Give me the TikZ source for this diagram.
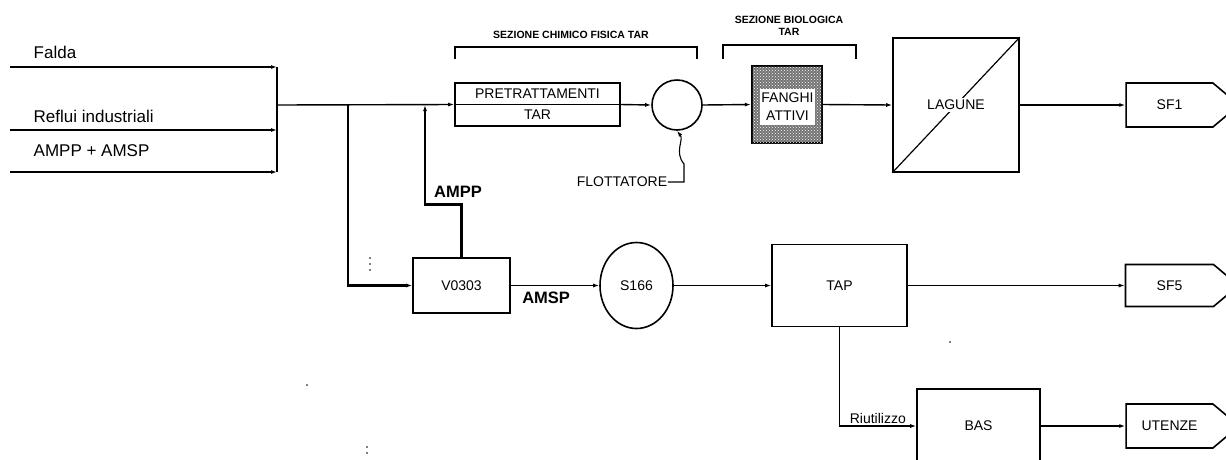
\documentclass[tikz,border=0pt]{standalone}
\usepackage{fontspec}
\setmainfont{Liberation Sans}
\usetikzlibrary{arrows.meta,shapes.geometric,shapes.symbols,patterns}

\begin{document}
\begin{tikzpicture}[x=1pt,y=-1pt,line width=1.4pt,>={Latex[length=6pt,width=4pt]},
  box/.style={draw,line width=1.6pt,inner sep=0pt,font=\fontsize{14}{16}\selectfont},
  uscita/.style={box,signal,signal to=east,signal pointer angle=80,minimum width=113pt},
  tubo/.style={line width=2.6pt},
  lab/.style={inner sep=0pt,font=\fontsize{17}{19}\selectfont},
  titolo/.style={inner sep=0pt,align=center,font=\fontsize{10.5}{12}\selectfont\bfseries}]
  \useasboundingbox (0,0) rectangle (1226,459);
  \clip (0,0) rectangle (1226,459);
  % ingressi e collettore
  \coordinate (inF) at (10,67); \coordinate (cF) at (277,67);
  \coordinate (inR) at (10,130); \coordinate (cR) at (277,130);
  \coordinate (inA) at (10,172); \coordinate (cA) at (277,172);
  \coordinate (cM) at (277,105);
  \node[lab,anchor=west] (falda) at (33,52){Falda};
  \node[lab,anchor=west] (reflui) at (33,116){Reflui industriali};
  \node[lab,anchor=west] (amppamsp) at (33,151){AMPP + AMSP};
  \draw[->] (inF)--(cF); \draw[->] (inR)--(cR); \draw[->] (inA)--(cA);
  \draw[line width=2pt] (cF)--(cA);
  % linea TAR (sopra)
  \node[box,minimum width=165pt,minimum height=43pt,align=center,font=\fontsize{14}{21}\selectfont] (pre) at (537.5,104.5){PRETRATTAMENTI\\TAR};
  \draw[line width=1.2pt] (pre.west)--(pre.east);
  \node[box,circle,minimum size=50pt] (flot) at (677,105){};
  \node[box,minimum width=70pt,minimum height=77pt,line width=2.4pt,preaction={fill=black!55},postaction={pattern=crosshatch dots,pattern color=white}] (fanghi) at (787,104.5){};
  \node[fill=white,inner sep=0pt,minimum width=55pt,minimum height=36pt,align=center,font=\fontsize{14}{18}\selectfont] (fantxt) at (787.5,106.5){FANGHI\\ATTIVI};
  \node[box,minimum width=126pt,minimum height=134pt] (lagune) at (956,105){};
  \draw[line width=1.2pt] (lagune.south west)--(lagune.north east);
  \node[fill=white,inner sep=2pt,font=\fontsize{14}{16}\selectfont] (lagtxt) at (lagune.center){LAGUNE};
  \node[uscita,minimum height=44pt] (sf1) at (1169.5,105){SF1};
  \draw[->] (cM)--(pre.west);
  \draw[->] (pre.east)--(flot.west);
  \draw[->] (flot.east)--(fanghi.west);
  \draw[->] (fanghi.east)--(lagune.west);
  \draw[->] (lagune.east)--(sf1.west);
  % sezioni
  \draw[line width=1.2pt] (455,59)--(455,47)--(697,47)--(697,59);
  \node[titolo] (tchim) at (571,35){SEZIONE CHIMICO FISICA TAR};
  \draw[line width=1.2pt] (723,59)--(723,45)--(856,45)--(856,59);
  \node[titolo] (tbio) at (789,26){SEZIONE BIOLOGICA\\TAR};
  \node[inner sep=0pt,font=\fontsize{14}{16}\selectfont] (flotlab) at (622,182){FLOTTATORE};
  \draw[line width=1.1pt,->] (flotlab.east)--(684,182)--(684,164) .. controls (674,152) and (684,140) .. (flot.south);
  % linea TAP (centro)
  \coordinate (bM) at (348,105);
  \coordinate (ampp) at (425,105);
  \node[box,minimum width=97pt,minimum height=55pt] (v0303) at (461.5,285.5){V0303};
  \node[box,ellipse,minimum width=73pt,minimum height=86pt] (s166) at (636.5,285.5){S166};
  \node[box,minimum width=135pt,minimum height=82pt] (tap) at (839.5,285.5){TAP};
  \node[uscita,minimum height=42pt] (sf5) at (1169.5,285.5){SF5};
  \draw[tubo,->] (bM) |- (v0303.west);
  \draw[tubo,->] (v0303.north) -- ++(0,-53) -| (ampp);
  \node[lab,font=\fontsize{16.5}{19}\selectfont\bfseries] (ampplab) at (458,192){AMPP};
  \draw[->] (v0303.east)--(s166.west) node[lab,font=\fontsize{16.5}{19}\selectfont\bfseries,pos=0.4,below=6pt]{AMSP};
  \draw[->] (s166.east)--(tap.west);
  \draw[->] (tap.east)--(sf5.west);
  % riutilizzo (sotto)
  \node[box,minimum width=123pt,minimum height=74pt] (bas) at (978.5,426){BAS};
  \node[uscita,minimum height=44pt] (ute) at (1169.5,426){UTENZE};
  \draw[->] (tap.south) |- (bas.west) node[pos=0.75,above=2pt,inner sep=0pt,font=\fontsize{14}{16}\selectfont]{Riutilizzo};
  \draw[->] (bas.east)--(ute.west);
  % puntini
  \fill (370,258) circle (0.9); \fill (370,264) circle (0.9); \fill (370,270) circle (0.9);
  \fill (307,385) circle (0.8); \fill (950,342) circle (0.8);
  \fill (367,447) circle (0.9); \fill (367,453) circle (0.9);
\end{tikzpicture}
\end{document}
